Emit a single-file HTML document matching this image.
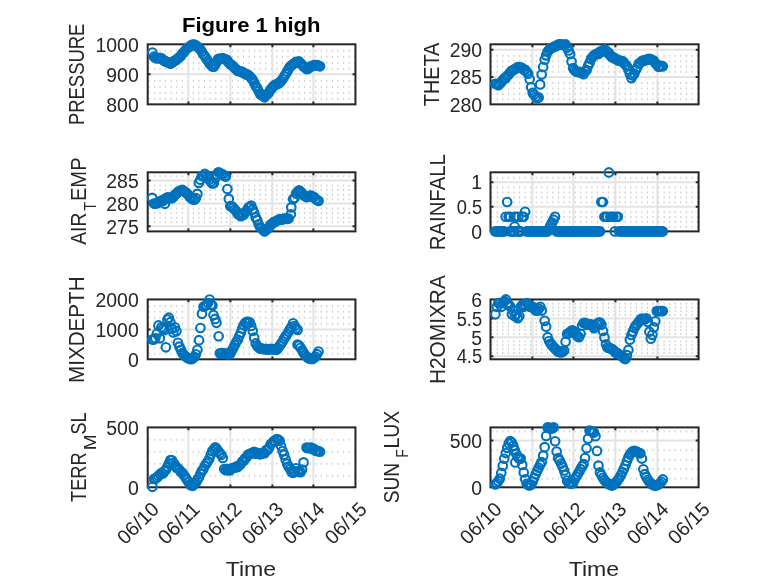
<!DOCTYPE html>
<html><head><meta charset="utf-8"><title>Figure 1 high</title>
<style>html,body{margin:0;padding:0;background:#fff;}body{width:778px;height:583px;overflow:hidden;font-family:"Liberation Sans",sans-serif;}svg{display:block;}</style></head>
<body>
<svg width="778" height="583" viewBox="0 0 778 583" font-family="'Liberation Sans', sans-serif" fill="#262626">
<rect width="778" height="583" fill="#fff"/>
<line x1="147.7" y1="98.8" x2="355.45" y2="98.8" stroke="#cccccc" stroke-width="2.0" stroke-dasharray="1.15 4.41" stroke-dashoffset="-0.7"/><line x1="147.7" y1="92.79" x2="355.45" y2="92.79" stroke="#cccccc" stroke-width="2.0" stroke-dasharray="1.15 4.41" stroke-dashoffset="-0.7"/><line x1="147.7" y1="86.78" x2="355.45" y2="86.78" stroke="#cccccc" stroke-width="2.0" stroke-dasharray="1.15 4.41" stroke-dashoffset="-0.7"/><line x1="147.7" y1="80.78" x2="355.45" y2="80.78" stroke="#cccccc" stroke-width="2.0" stroke-dasharray="1.15 4.41" stroke-dashoffset="-0.7"/><line x1="147.7" y1="68.77" x2="355.45" y2="68.77" stroke="#cccccc" stroke-width="2.0" stroke-dasharray="1.15 4.41" stroke-dashoffset="-0.7"/><line x1="147.7" y1="62.77" x2="355.45" y2="62.77" stroke="#cccccc" stroke-width="2.0" stroke-dasharray="1.15 4.41" stroke-dashoffset="-0.7"/><line x1="147.7" y1="56.76" x2="355.45" y2="56.76" stroke="#cccccc" stroke-width="2.0" stroke-dasharray="1.15 4.41" stroke-dashoffset="-0.7"/><line x1="147.7" y1="50.75" x2="355.45" y2="50.75" stroke="#cccccc" stroke-width="2.0" stroke-dasharray="1.15 4.41" stroke-dashoffset="-0.7"/><line x1="188.4" y1="44.3" x2="188.4" y2="104.35" stroke="#e3e3e3" stroke-width="2"/><line x1="230.4" y1="44.3" x2="230.4" y2="104.35" stroke="#e3e3e3" stroke-width="2"/><line x1="272.4" y1="44.3" x2="272.4" y2="104.35" stroke="#e3e3e3" stroke-width="2"/><line x1="313.4" y1="44.3" x2="313.4" y2="104.35" stroke="#e3e3e3" stroke-width="2"/><line x1="147.7" y1="74.32" x2="355.45" y2="74.32" stroke="#e3e3e3" stroke-width="2"/>
<line x1="490.5" y1="99.34" x2="698.6" y2="99.34" stroke="#cccccc" stroke-width="2.0" stroke-dasharray="1.15 4.41" stroke-dashoffset="-0.7"/><line x1="490.5" y1="93.88" x2="698.6" y2="93.88" stroke="#cccccc" stroke-width="2.0" stroke-dasharray="1.15 4.41" stroke-dashoffset="-0.7"/><line x1="490.5" y1="88.42" x2="698.6" y2="88.42" stroke="#cccccc" stroke-width="2.0" stroke-dasharray="1.15 4.41" stroke-dashoffset="-0.7"/><line x1="490.5" y1="82.96" x2="698.6" y2="82.96" stroke="#cccccc" stroke-width="2.0" stroke-dasharray="1.15 4.41" stroke-dashoffset="-0.7"/><line x1="490.5" y1="72.05" x2="698.6" y2="72.05" stroke="#cccccc" stroke-width="2.0" stroke-dasharray="1.15 4.41" stroke-dashoffset="-0.7"/><line x1="490.5" y1="66.59" x2="698.6" y2="66.59" stroke="#cccccc" stroke-width="2.0" stroke-dasharray="1.15 4.41" stroke-dashoffset="-0.7"/><line x1="490.5" y1="61.13" x2="698.6" y2="61.13" stroke="#cccccc" stroke-width="2.0" stroke-dasharray="1.15 4.41" stroke-dashoffset="-0.7"/><line x1="490.5" y1="55.67" x2="698.6" y2="55.67" stroke="#cccccc" stroke-width="2.0" stroke-dasharray="1.15 4.41" stroke-dashoffset="-0.7"/><line x1="532.4" y1="44.3" x2="532.4" y2="104.35" stroke="#e3e3e3" stroke-width="2"/><line x1="573.4" y1="44.3" x2="573.4" y2="104.35" stroke="#e3e3e3" stroke-width="2"/><line x1="615.4" y1="44.3" x2="615.4" y2="104.35" stroke="#e3e3e3" stroke-width="2"/><line x1="657.4" y1="44.3" x2="657.4" y2="104.35" stroke="#e3e3e3" stroke-width="2"/><line x1="490.5" y1="49.76" x2="698.6" y2="49.76" stroke="#e3e3e3" stroke-width="2"/><line x1="490.5" y1="77.05" x2="698.6" y2="77.05" stroke="#e3e3e3" stroke-width="2"/>
<line x1="147.7" y1="222.21" x2="355.45" y2="222.21" stroke="#cccccc" stroke-width="2.0" stroke-dasharray="1.15 4.41" stroke-dashoffset="-0.7"/><line x1="147.7" y1="217.63" x2="355.45" y2="217.63" stroke="#cccccc" stroke-width="2.0" stroke-dasharray="1.15 4.41" stroke-dashoffset="-0.7"/><line x1="147.7" y1="213.04" x2="355.45" y2="213.04" stroke="#cccccc" stroke-width="2.0" stroke-dasharray="1.15 4.41" stroke-dashoffset="-0.7"/><line x1="147.7" y1="208.45" x2="355.45" y2="208.45" stroke="#cccccc" stroke-width="2.0" stroke-dasharray="1.15 4.41" stroke-dashoffset="-0.7"/><line x1="147.7" y1="199.27" x2="355.45" y2="199.27" stroke="#cccccc" stroke-width="2.0" stroke-dasharray="1.15 4.41" stroke-dashoffset="-0.7"/><line x1="147.7" y1="194.68" x2="355.45" y2="194.68" stroke="#cccccc" stroke-width="2.0" stroke-dasharray="1.15 4.41" stroke-dashoffset="-0.7"/><line x1="147.7" y1="190.09" x2="355.45" y2="190.09" stroke="#cccccc" stroke-width="2.0" stroke-dasharray="1.15 4.41" stroke-dashoffset="-0.7"/><line x1="147.7" y1="185.51" x2="355.45" y2="185.51" stroke="#cccccc" stroke-width="2.0" stroke-dasharray="1.15 4.41" stroke-dashoffset="-0.7"/><line x1="147.7" y1="176.33" x2="355.45" y2="176.33" stroke="#cccccc" stroke-width="2.0" stroke-dasharray="1.15 4.41" stroke-dashoffset="-0.7"/><line x1="188.4" y1="172.3" x2="188.4" y2="231.4" stroke="#e3e3e3" stroke-width="2"/><line x1="230.4" y1="172.3" x2="230.4" y2="231.4" stroke="#e3e3e3" stroke-width="2"/><line x1="272.4" y1="172.3" x2="272.4" y2="231.4" stroke="#e3e3e3" stroke-width="2"/><line x1="313.4" y1="172.3" x2="313.4" y2="231.4" stroke="#e3e3e3" stroke-width="2"/><line x1="147.7" y1="180.47" x2="355.45" y2="180.47" stroke="#e3e3e3" stroke-width="2"/><line x1="147.7" y1="203.41" x2="355.45" y2="203.41" stroke="#e3e3e3" stroke-width="2"/><line x1="147.7" y1="226.35" x2="355.45" y2="226.35" stroke="#e3e3e3" stroke-width="2"/>
<line x1="490.5" y1="226.92" x2="698.6" y2="226.92" stroke="#cccccc" stroke-width="2.0" stroke-dasharray="1.15 4.41" stroke-dashoffset="-0.7"/><line x1="490.5" y1="222" x2="698.6" y2="222" stroke="#cccccc" stroke-width="2.0" stroke-dasharray="1.15 4.41" stroke-dashoffset="-0.7"/><line x1="490.5" y1="217.07" x2="698.6" y2="217.07" stroke="#cccccc" stroke-width="2.0" stroke-dasharray="1.15 4.41" stroke-dashoffset="-0.7"/><line x1="490.5" y1="212.15" x2="698.6" y2="212.15" stroke="#cccccc" stroke-width="2.0" stroke-dasharray="1.15 4.41" stroke-dashoffset="-0.7"/><line x1="490.5" y1="202.3" x2="698.6" y2="202.3" stroke="#cccccc" stroke-width="2.0" stroke-dasharray="1.15 4.41" stroke-dashoffset="-0.7"/><line x1="490.5" y1="197.38" x2="698.6" y2="197.38" stroke="#cccccc" stroke-width="2.0" stroke-dasharray="1.15 4.41" stroke-dashoffset="-0.7"/><line x1="490.5" y1="192.45" x2="698.6" y2="192.45" stroke="#cccccc" stroke-width="2.0" stroke-dasharray="1.15 4.41" stroke-dashoffset="-0.7"/><line x1="490.5" y1="187.52" x2="698.6" y2="187.52" stroke="#cccccc" stroke-width="2.0" stroke-dasharray="1.15 4.41" stroke-dashoffset="-0.7"/><line x1="490.5" y1="177.67" x2="698.6" y2="177.67" stroke="#cccccc" stroke-width="2.0" stroke-dasharray="1.15 4.41" stroke-dashoffset="-0.7"/><line x1="532.4" y1="172.3" x2="532.4" y2="231.4" stroke="#e3e3e3" stroke-width="2"/><line x1="573.4" y1="172.3" x2="573.4" y2="231.4" stroke="#e3e3e3" stroke-width="2"/><line x1="615.4" y1="172.3" x2="615.4" y2="231.4" stroke="#e3e3e3" stroke-width="2"/><line x1="657.4" y1="172.3" x2="657.4" y2="231.4" stroke="#e3e3e3" stroke-width="2"/><line x1="490.5" y1="182.15" x2="698.6" y2="182.15" stroke="#e3e3e3" stroke-width="2"/><line x1="490.5" y1="206.78" x2="698.6" y2="206.78" stroke="#e3e3e3" stroke-width="2"/>
<line x1="147.7" y1="353.76" x2="355.45" y2="353.76" stroke="#cccccc" stroke-width="2.0" stroke-dasharray="1.15 4.41" stroke-dashoffset="-0.7"/><line x1="147.7" y1="347.78" x2="355.45" y2="347.78" stroke="#cccccc" stroke-width="2.0" stroke-dasharray="1.15 4.41" stroke-dashoffset="-0.7"/><line x1="147.7" y1="341.8" x2="355.45" y2="341.8" stroke="#cccccc" stroke-width="2.0" stroke-dasharray="1.15 4.41" stroke-dashoffset="-0.7"/><line x1="147.7" y1="335.81" x2="355.45" y2="335.81" stroke="#cccccc" stroke-width="2.0" stroke-dasharray="1.15 4.41" stroke-dashoffset="-0.7"/><line x1="147.7" y1="323.84" x2="355.45" y2="323.84" stroke="#cccccc" stroke-width="2.0" stroke-dasharray="1.15 4.41" stroke-dashoffset="-0.7"/><line x1="147.7" y1="317.85" x2="355.45" y2="317.85" stroke="#cccccc" stroke-width="2.0" stroke-dasharray="1.15 4.41" stroke-dashoffset="-0.7"/><line x1="147.7" y1="311.87" x2="355.45" y2="311.87" stroke="#cccccc" stroke-width="2.0" stroke-dasharray="1.15 4.41" stroke-dashoffset="-0.7"/><line x1="147.7" y1="305.88" x2="355.45" y2="305.88" stroke="#cccccc" stroke-width="2.0" stroke-dasharray="1.15 4.41" stroke-dashoffset="-0.7"/><line x1="188.4" y1="299.45" x2="188.4" y2="359.3" stroke="#e3e3e3" stroke-width="2"/><line x1="230.4" y1="299.45" x2="230.4" y2="359.3" stroke="#e3e3e3" stroke-width="2"/><line x1="272.4" y1="299.45" x2="272.4" y2="359.3" stroke="#e3e3e3" stroke-width="2"/><line x1="313.4" y1="299.45" x2="313.4" y2="359.3" stroke="#e3e3e3" stroke-width="2"/><line x1="147.7" y1="329.38" x2="355.45" y2="329.38" stroke="#e3e3e3" stroke-width="2"/>
<line x1="490.5" y1="352.93" x2="698.6" y2="352.93" stroke="#cccccc" stroke-width="2.0" stroke-dasharray="1.15 4.41" stroke-dashoffset="-0.7"/><line x1="490.5" y1="349.14" x2="698.6" y2="349.14" stroke="#cccccc" stroke-width="2.0" stroke-dasharray="1.15 4.41" stroke-dashoffset="-0.7"/><line x1="490.5" y1="345.36" x2="698.6" y2="345.36" stroke="#cccccc" stroke-width="2.0" stroke-dasharray="1.15 4.41" stroke-dashoffset="-0.7"/><line x1="490.5" y1="341.57" x2="698.6" y2="341.57" stroke="#cccccc" stroke-width="2.0" stroke-dasharray="1.15 4.41" stroke-dashoffset="-0.7"/><line x1="490.5" y1="333.99" x2="698.6" y2="333.99" stroke="#cccccc" stroke-width="2.0" stroke-dasharray="1.15 4.41" stroke-dashoffset="-0.7"/><line x1="490.5" y1="330.2" x2="698.6" y2="330.2" stroke="#cccccc" stroke-width="2.0" stroke-dasharray="1.15 4.41" stroke-dashoffset="-0.7"/><line x1="490.5" y1="326.42" x2="698.6" y2="326.42" stroke="#cccccc" stroke-width="2.0" stroke-dasharray="1.15 4.41" stroke-dashoffset="-0.7"/><line x1="490.5" y1="322.63" x2="698.6" y2="322.63" stroke="#cccccc" stroke-width="2.0" stroke-dasharray="1.15 4.41" stroke-dashoffset="-0.7"/><line x1="490.5" y1="315.05" x2="698.6" y2="315.05" stroke="#cccccc" stroke-width="2.0" stroke-dasharray="1.15 4.41" stroke-dashoffset="-0.7"/><line x1="490.5" y1="311.26" x2="698.6" y2="311.26" stroke="#cccccc" stroke-width="2.0" stroke-dasharray="1.15 4.41" stroke-dashoffset="-0.7"/><line x1="490.5" y1="307.48" x2="698.6" y2="307.48" stroke="#cccccc" stroke-width="2.0" stroke-dasharray="1.15 4.41" stroke-dashoffset="-0.7"/><line x1="490.5" y1="303.69" x2="698.6" y2="303.69" stroke="#cccccc" stroke-width="2.0" stroke-dasharray="1.15 4.41" stroke-dashoffset="-0.7"/><line x1="532.4" y1="299.45" x2="532.4" y2="359.3" stroke="#e3e3e3" stroke-width="2"/><line x1="573.4" y1="299.45" x2="573.4" y2="359.3" stroke="#e3e3e3" stroke-width="2"/><line x1="615.4" y1="299.45" x2="615.4" y2="359.3" stroke="#e3e3e3" stroke-width="2"/><line x1="657.4" y1="299.45" x2="657.4" y2="359.3" stroke="#e3e3e3" stroke-width="2"/><line x1="490.5" y1="318.39" x2="698.6" y2="318.39" stroke="#e3e3e3" stroke-width="2"/><line x1="490.5" y1="337.33" x2="698.6" y2="337.33" stroke="#e3e3e3" stroke-width="2"/><line x1="490.5" y1="356.27" x2="698.6" y2="356.27" stroke="#e3e3e3" stroke-width="2"/>
<line x1="147.7" y1="475.77" x2="355.45" y2="475.77" stroke="#cccccc" stroke-width="2.0" stroke-dasharray="1.15 4.41" stroke-dashoffset="-0.7"/><line x1="147.7" y1="463.79" x2="355.45" y2="463.79" stroke="#cccccc" stroke-width="2.0" stroke-dasharray="1.15 4.41" stroke-dashoffset="-0.7"/><line x1="147.7" y1="451.81" x2="355.45" y2="451.81" stroke="#cccccc" stroke-width="2.0" stroke-dasharray="1.15 4.41" stroke-dashoffset="-0.7"/><line x1="147.7" y1="439.83" x2="355.45" y2="439.83" stroke="#cccccc" stroke-width="2.0" stroke-dasharray="1.15 4.41" stroke-dashoffset="-0.7"/><line x1="188.4" y1="427.4" x2="188.4" y2="487.3" stroke="#e3e3e3" stroke-width="2"/><line x1="230.4" y1="427.4" x2="230.4" y2="487.3" stroke="#e3e3e3" stroke-width="2"/><line x1="272.4" y1="427.4" x2="272.4" y2="487.3" stroke="#e3e3e3" stroke-width="2"/><line x1="313.4" y1="427.4" x2="313.4" y2="487.3" stroke="#e3e3e3" stroke-width="2"/>
<line x1="490.5" y1="478.39" x2="698.6" y2="478.39" stroke="#cccccc" stroke-width="2.0" stroke-dasharray="1.15 4.41" stroke-dashoffset="-0.7"/><line x1="490.5" y1="469.03" x2="698.6" y2="469.03" stroke="#cccccc" stroke-width="2.0" stroke-dasharray="1.15 4.41" stroke-dashoffset="-0.7"/><line x1="490.5" y1="459.67" x2="698.6" y2="459.67" stroke="#cccccc" stroke-width="2.0" stroke-dasharray="1.15 4.41" stroke-dashoffset="-0.7"/><line x1="490.5" y1="450.31" x2="698.6" y2="450.31" stroke="#cccccc" stroke-width="2.0" stroke-dasharray="1.15 4.41" stroke-dashoffset="-0.7"/><line x1="490.5" y1="431.59" x2="698.6" y2="431.59" stroke="#cccccc" stroke-width="2.0" stroke-dasharray="1.15 4.41" stroke-dashoffset="-0.7"/><line x1="532.4" y1="427.4" x2="532.4" y2="487.3" stroke="#e3e3e3" stroke-width="2"/><line x1="573.4" y1="427.4" x2="573.4" y2="487.3" stroke="#e3e3e3" stroke-width="2"/><line x1="615.4" y1="427.4" x2="615.4" y2="487.3" stroke="#e3e3e3" stroke-width="2"/><line x1="657.4" y1="427.4" x2="657.4" y2="487.3" stroke="#e3e3e3" stroke-width="2"/><line x1="490.5" y1="440.5" x2="698.6" y2="440.5" stroke="#e3e3e3" stroke-width="2"/>
<rect x="147.7" y="44.3" width="207.75" height="60.05" fill="none" stroke="#262626" stroke-width="2.0"/><path d="M188.4 104.35v-2.9M188.4 44.3v2.9M230.4 104.35v-2.9M230.4 44.3v2.9M272.4 104.35v-2.9M272.4 44.3v2.9M313.4 104.35v-2.9M313.4 44.3v2.9M147.7 74.32h2.9M355.45 74.32h-2.9" stroke="#262626" stroke-width="2.0" fill="none"/>
<rect x="490.5" y="44.3" width="208.1" height="60.05" fill="none" stroke="#262626" stroke-width="2.0"/><path d="M532.4 104.35v-2.9M532.4 44.3v2.9M573.4 104.35v-2.9M573.4 44.3v2.9M615.4 104.35v-2.9M615.4 44.3v2.9M657.4 104.35v-2.9M657.4 44.3v2.9M490.5 49.76h2.9M698.6 49.76h-2.9M490.5 77.05h2.9M698.6 77.05h-2.9" stroke="#262626" stroke-width="2.0" fill="none"/>
<rect x="147.7" y="172.3" width="207.75" height="59.1" fill="none" stroke="#262626" stroke-width="2.0"/><path d="M188.4 231.4v-2.9M188.4 172.3v2.9M230.4 231.4v-2.9M230.4 172.3v2.9M272.4 231.4v-2.9M272.4 172.3v2.9M313.4 231.4v-2.9M313.4 172.3v2.9M147.7 180.47h2.9M355.45 180.47h-2.9M147.7 203.41h2.9M355.45 203.41h-2.9M147.7 226.35h2.9M355.45 226.35h-2.9" stroke="#262626" stroke-width="2.0" fill="none"/>
<rect x="490.5" y="172.3" width="208.1" height="59.1" fill="none" stroke="#262626" stroke-width="2.0"/><path d="M532.4 231.4v-2.9M532.4 172.3v2.9M573.4 231.4v-2.9M573.4 172.3v2.9M615.4 231.4v-2.9M615.4 172.3v2.9M657.4 231.4v-2.9M657.4 172.3v2.9M490.5 182.15h2.9M698.6 182.15h-2.9M490.5 206.78h2.9M698.6 206.78h-2.9" stroke="#262626" stroke-width="2.0" fill="none"/>
<rect x="147.7" y="299.45" width="207.75" height="59.85" fill="none" stroke="#262626" stroke-width="2.0"/><path d="M188.4 359.3v-2.9M188.4 299.45v2.9M230.4 359.3v-2.9M230.4 299.45v2.9M272.4 359.3v-2.9M272.4 299.45v2.9M313.4 359.3v-2.9M313.4 299.45v2.9M147.7 329.38h2.9M355.45 329.38h-2.9" stroke="#262626" stroke-width="2.0" fill="none"/>
<rect x="490.5" y="299.45" width="208.1" height="59.85" fill="none" stroke="#262626" stroke-width="2.0"/><path d="M532.4 359.3v-2.9M532.4 299.45v2.9M573.4 359.3v-2.9M573.4 299.45v2.9M615.4 359.3v-2.9M615.4 299.45v2.9M657.4 359.3v-2.9M657.4 299.45v2.9M490.5 318.39h2.9M698.6 318.39h-2.9M490.5 337.33h2.9M698.6 337.33h-2.9M490.5 356.27h2.9M698.6 356.27h-2.9" stroke="#262626" stroke-width="2.0" fill="none"/>
<rect x="147.7" y="427.4" width="207.75" height="59.9" fill="none" stroke="#262626" stroke-width="2.0"/><path d="M188.4 487.3v-2.9M188.4 427.4v2.9M230.4 487.3v-2.9M230.4 427.4v2.9M272.4 487.3v-2.9M272.4 427.4v2.9M313.4 487.3v-2.9M313.4 427.4v2.9" stroke="#262626" stroke-width="2.0" fill="none"/>
<rect x="490.5" y="427.4" width="208.1" height="59.9" fill="none" stroke="#262626" stroke-width="2.0"/><path d="M532.4 487.3v-2.9M532.4 427.4v2.9M573.4 487.3v-2.9M573.4 427.4v2.9M615.4 487.3v-2.9M615.4 427.4v2.9M657.4 487.3v-2.9M657.4 427.4v2.9M490.5 440.5h2.9M698.6 440.5h-2.9" stroke="#262626" stroke-width="2.0" fill="none"/>
<g fill="none" stroke="#0072BD" stroke-width="2.1"><circle cx="152.4" cy="52.6" r="4.3"/><circle cx="154" cy="56.67" r="4.3"/><circle cx="155.49" cy="57.86" r="4.3"/><circle cx="156.99" cy="58.29" r="4.3"/><circle cx="158.48" cy="58.14" r="4.3"/><circle cx="159.98" cy="57.85" r="4.3"/><circle cx="161.47" cy="58.36" r="4.3"/><circle cx="162.97" cy="60.05" r="4.3"/><circle cx="164.46" cy="60.61" r="4.3"/><circle cx="165.96" cy="61.64" r="4.3"/><circle cx="167.46" cy="62.11" r="4.3"/><circle cx="168.95" cy="62.78" r="4.3"/><circle cx="170.45" cy="63.67" r="4.3"/><circle cx="171.94" cy="62.6" r="4.3"/><circle cx="173.44" cy="61.68" r="4.3"/><circle cx="174.93" cy="60.5" r="4.3"/><circle cx="176.43" cy="59.98" r="4.3"/><circle cx="177.92" cy="58.28" r="4.3"/><circle cx="179.42" cy="57.18" r="4.3"/><circle cx="180.91" cy="55.88" r="4.3"/><circle cx="182.41" cy="53.58" r="4.3"/><circle cx="183.91" cy="52.15" r="4.3"/><circle cx="185.4" cy="50.31" r="4.3"/><circle cx="186.9" cy="48.5" r="4.3"/><circle cx="188.39" cy="47.28" r="4.3"/><circle cx="189.89" cy="46.51" r="4.3"/><circle cx="191.38" cy="45.01" r="4.3"/><circle cx="192.88" cy="44.62" r="4.3"/><circle cx="194.37" cy="44.69" r="4.3"/><circle cx="195.87" cy="45.46" r="4.3"/><circle cx="197.37" cy="46.62" r="4.3"/><circle cx="198.86" cy="48.06" r="4.3"/><circle cx="200.36" cy="49.48" r="4.3"/><circle cx="201.85" cy="51.61" r="4.3"/><circle cx="203.35" cy="54.53" r="4.3"/><circle cx="204.84" cy="56.19" r="4.3"/><circle cx="206.34" cy="58.6" r="4.3"/><circle cx="207.83" cy="60.8" r="4.3"/><circle cx="209.33" cy="63.16" r="4.3"/><circle cx="210.82" cy="64.99" r="4.3"/><circle cx="212.32" cy="66.36" r="4.3"/><circle cx="213.82" cy="66.63" r="4.3"/><circle cx="215.31" cy="64.49" r="4.3"/><circle cx="216.81" cy="61.43" r="4.3"/><circle cx="218.3" cy="58.84" r="4.3"/><circle cx="219.8" cy="58.96" r="4.3"/><circle cx="221.29" cy="58.86" r="4.3"/><circle cx="222.79" cy="58.19" r="4.3"/><circle cx="224.28" cy="59.07" r="4.3"/><circle cx="225.78" cy="59.32" r="4.3"/><circle cx="227.28" cy="60.4" r="4.3"/><circle cx="228.77" cy="62.67" r="4.3"/><circle cx="230.27" cy="64.27" r="4.3"/><circle cx="231.76" cy="64.95" r="4.3"/><circle cx="233.26" cy="66.5" r="4.3"/><circle cx="234.75" cy="68.06" r="4.3"/><circle cx="236.25" cy="69.48" r="4.3"/><circle cx="237.74" cy="70.99" r="4.3"/><circle cx="239.24" cy="71.03" r="4.3"/><circle cx="240.73" cy="71.72" r="4.3"/><circle cx="242.23" cy="71.79" r="4.3"/><circle cx="243.73" cy="73.25" r="4.3"/><circle cx="245.22" cy="73.53" r="4.3"/><circle cx="246.72" cy="74.74" r="4.3"/><circle cx="248.21" cy="74.94" r="4.3"/><circle cx="249.71" cy="76.28" r="4.3"/><circle cx="251.2" cy="78.1" r="4.3"/><circle cx="252.7" cy="79.82" r="4.3"/><circle cx="254.19" cy="82.55" r="4.3"/><circle cx="255.69" cy="86.02" r="4.3"/><circle cx="257.19" cy="88.01" r="4.3"/><circle cx="258.68" cy="91.26" r="4.3"/><circle cx="260.18" cy="94.21" r="4.3"/><circle cx="261.67" cy="94.9" r="4.3"/><circle cx="263.17" cy="96.05" r="4.3"/><circle cx="264.66" cy="97.3" r="4.3"/><circle cx="266.16" cy="94.86" r="4.3"/><circle cx="267.65" cy="93.98" r="4.3"/><circle cx="269.15" cy="92.12" r="4.3"/><circle cx="270.64" cy="89.44" r="4.3"/><circle cx="272.14" cy="87.9" r="4.3"/><circle cx="273.64" cy="85.78" r="4.3"/><circle cx="275.13" cy="85.04" r="4.3"/><circle cx="276.63" cy="84.13" r="4.3"/><circle cx="278.12" cy="83.62" r="4.3"/><circle cx="279.62" cy="82.49" r="4.3"/><circle cx="281.11" cy="81.1" r="4.3"/><circle cx="282.61" cy="79.07" r="4.3"/><circle cx="284.1" cy="76.59" r="4.3"/><circle cx="285.6" cy="74.21" r="4.3"/><circle cx="287.1" cy="71.81" r="4.3"/><circle cx="288.59" cy="68.98" r="4.3"/><circle cx="290.09" cy="66.46" r="4.3"/><circle cx="291.58" cy="65.59" r="4.3"/><circle cx="293.08" cy="64.02" r="4.3"/><circle cx="294.57" cy="63.23" r="4.3"/><circle cx="296.07" cy="61.84" r="4.3"/><circle cx="297.56" cy="62.07" r="4.3"/><circle cx="299.06" cy="61.42" r="4.3"/><circle cx="300.55" cy="63.3" r="4.3"/><circle cx="302.05" cy="64.71" r="4.3"/><circle cx="303.55" cy="66.36" r="4.3"/><circle cx="305.04" cy="67.49" r="4.3"/><circle cx="306.54" cy="69.04" r="4.3"/><circle cx="308.03" cy="68.81" r="4.3"/><circle cx="309.53" cy="67.35" r="4.3"/><circle cx="311.02" cy="66.04" r="4.3"/><circle cx="312.52" cy="66.05" r="4.3"/><circle cx="314.01" cy="65.15" r="4.3"/><circle cx="315.51" cy="65.11" r="4.3"/><circle cx="317" cy="65.15" r="4.3"/><circle cx="318.5" cy="65.6" r="4.3"/><circle cx="320" cy="66.33" r="4.3"/></g>
<g fill="none" stroke="#0072BD" stroke-width="2.1"><circle cx="495.3" cy="83.76" r="4.3"/><circle cx="496.8" cy="84.04" r="4.3"/><circle cx="498.29" cy="85.1" r="4.3"/><circle cx="499.79" cy="83.78" r="4.3"/><circle cx="501.28" cy="82.13" r="4.3"/><circle cx="502.78" cy="80.22" r="4.3"/><circle cx="504.27" cy="78.33" r="4.3"/><circle cx="505.77" cy="78.25" r="4.3"/><circle cx="507.26" cy="76.02" r="4.3"/><circle cx="508.76" cy="74.4" r="4.3"/><circle cx="510.25" cy="72.17" r="4.3"/><circle cx="511.75" cy="70.94" r="4.3"/><circle cx="513.25" cy="70.11" r="4.3"/><circle cx="514.74" cy="69.07" r="4.3"/><circle cx="516.24" cy="68.41" r="4.3"/><circle cx="517.73" cy="67.04" r="4.3"/><circle cx="519.23" cy="67.44" r="4.3"/><circle cx="520.72" cy="67.3" r="4.3"/><circle cx="522.22" cy="68.17" r="4.3"/><circle cx="523.71" cy="69.63" r="4.3"/><circle cx="525.21" cy="69.74" r="4.3"/><circle cx="526.71" cy="71.95" r="4.3"/><circle cx="528.2" cy="73.69" r="4.3"/><circle cx="529.7" cy="79.2" r="4.3"/><circle cx="531.19" cy="87.26" r="4.3"/><circle cx="532.69" cy="92.86" r="4.3"/><circle cx="534.18" cy="94.46" r="4.3"/><circle cx="535.68" cy="96.75" r="4.3"/><circle cx="537.17" cy="98.25" r="4.3"/><circle cx="538.67" cy="97.43" r="4.3"/><circle cx="540.16" cy="84.43" r="4.3"/><circle cx="541.66" cy="74.53" r="4.3"/><circle cx="543.16" cy="67.02" r="4.3"/><circle cx="544.65" cy="59.66" r="4.3"/><circle cx="546.15" cy="55.35" r="4.3"/><circle cx="547.64" cy="51.47" r="4.3"/><circle cx="549.14" cy="49.94" r="4.3"/><circle cx="550.63" cy="48.4" r="4.3"/><circle cx="552.13" cy="47.75" r="4.3"/><circle cx="553.62" cy="46.92" r="4.3"/><circle cx="555.12" cy="46.23" r="4.3"/><circle cx="556.62" cy="46.09" r="4.3"/><circle cx="558.11" cy="44.49" r="4.3"/><circle cx="559.61" cy="44.3" r="4.3"/><circle cx="561.1" cy="44.3" r="4.3"/><circle cx="562.6" cy="44.73" r="4.3"/><circle cx="564.09" cy="45.07" r="4.3"/><circle cx="565.59" cy="44.41" r="4.3"/><circle cx="567.08" cy="47.61" r="4.3"/><circle cx="568.58" cy="50.5" r="4.3"/><circle cx="570.08" cy="54.04" r="4.3"/><circle cx="571.57" cy="61.49" r="4.3"/><circle cx="573.07" cy="68.03" r="4.3"/><circle cx="574.56" cy="70.18" r="4.3"/><circle cx="576.06" cy="71.59" r="4.3"/><circle cx="577.55" cy="71.99" r="4.3"/><circle cx="579.05" cy="71.86" r="4.3"/><circle cx="580.54" cy="72.52" r="4.3"/><circle cx="582.04" cy="72.73" r="4.3"/><circle cx="583.53" cy="74.18" r="4.3"/><circle cx="585.03" cy="71.21" r="4.3"/><circle cx="586.53" cy="70.2" r="4.3"/><circle cx="588.02" cy="66.14" r="4.3"/><circle cx="589.52" cy="62.9" r="4.3"/><circle cx="591.01" cy="59.14" r="4.3"/><circle cx="592.51" cy="57.07" r="4.3"/><circle cx="594" cy="55.24" r="4.3"/><circle cx="595.5" cy="54.48" r="4.3"/><circle cx="596.99" cy="53.59" r="4.3"/><circle cx="598.49" cy="53.86" r="4.3"/><circle cx="599.99" cy="51.68" r="4.3"/><circle cx="601.48" cy="51.53" r="4.3"/><circle cx="602.98" cy="50.9" r="4.3"/><circle cx="604.47" cy="49.38" r="4.3"/><circle cx="605.97" cy="50.57" r="4.3"/><circle cx="607.46" cy="52.73" r="4.3"/><circle cx="608.96" cy="52.91" r="4.3"/><circle cx="610.45" cy="55.79" r="4.3"/><circle cx="611.95" cy="57.11" r="4.3"/><circle cx="613.44" cy="57.28" r="4.3"/><circle cx="614.94" cy="58.6" r="4.3"/><circle cx="616.44" cy="58.99" r="4.3"/><circle cx="617.93" cy="60.48" r="4.3"/><circle cx="619.43" cy="60.44" r="4.3"/><circle cx="620.92" cy="61.08" r="4.3"/><circle cx="622.42" cy="60.99" r="4.3"/><circle cx="623.91" cy="62.61" r="4.3"/><circle cx="625.41" cy="64.71" r="4.3"/><circle cx="626.9" cy="66.18" r="4.3"/><circle cx="628.4" cy="69.67" r="4.3"/><circle cx="629.89" cy="74.2" r="4.3"/><circle cx="631.39" cy="78.1" r="4.3"/><circle cx="632.89" cy="75.57" r="4.3"/><circle cx="634.38" cy="73.57" r="4.3"/><circle cx="635.88" cy="69.96" r="4.3"/><circle cx="637.37" cy="67.28" r="4.3"/><circle cx="638.87" cy="63.6" r="4.3"/><circle cx="640.36" cy="62.72" r="4.3"/><circle cx="641.86" cy="60.96" r="4.3"/><circle cx="643.35" cy="60.94" r="4.3"/><circle cx="644.85" cy="60.15" r="4.3"/><circle cx="646.35" cy="59.94" r="4.3"/><circle cx="647.84" cy="59.05" r="4.3"/><circle cx="649.34" cy="58.86" r="4.3"/><circle cx="650.83" cy="59.36" r="4.3"/><circle cx="652.33" cy="60" r="4.3"/><circle cx="653.82" cy="60.88" r="4.3"/><circle cx="655.32" cy="63.32" r="4.3"/><circle cx="656.81" cy="64.33" r="4.3"/><circle cx="658.31" cy="66.61" r="4.3"/><circle cx="659.81" cy="66.51" r="4.3"/><circle cx="661.3" cy="65.97" r="4.3"/><circle cx="662.8" cy="66.31" r="4.3"/></g>
<g fill="none" stroke="#0072BD" stroke-width="2.1"><circle cx="152.2" cy="197.9" r="4.3"/><circle cx="154" cy="203.58" r="4.3"/><circle cx="155.49" cy="203.7" r="4.3"/><circle cx="156.99" cy="203.22" r="4.3"/><circle cx="158.48" cy="202.48" r="4.3"/><circle cx="159.98" cy="201.48" r="4.3"/><circle cx="161.47" cy="200.53" r="4.3"/><circle cx="162.97" cy="200.96" r="4.3"/><circle cx="164.46" cy="199.39" r="4.3"/><circle cx="164.9" cy="203.8" r="4.3"/><circle cx="165.96" cy="198.35" r="4.3"/><circle cx="167.46" cy="197.33" r="4.3"/><circle cx="168.95" cy="197.6" r="4.3"/><circle cx="170.45" cy="198.2" r="4.3"/><circle cx="171.94" cy="198.2" r="4.3"/><circle cx="173.44" cy="196.91" r="4.3"/><circle cx="174.93" cy="194.8" r="4.3"/><circle cx="176.43" cy="193.81" r="4.3"/><circle cx="177.92" cy="191.97" r="4.3"/><circle cx="179.42" cy="191.01" r="4.3"/><circle cx="180.91" cy="190.44" r="4.3"/><circle cx="182.41" cy="189.92" r="4.3"/><circle cx="183.91" cy="191.33" r="4.3"/><circle cx="185.4" cy="192.19" r="4.3"/><circle cx="186.9" cy="193.25" r="4.3"/><circle cx="188.39" cy="195.02" r="4.3"/><circle cx="189.89" cy="197.33" r="4.3"/><circle cx="191.38" cy="198.12" r="4.3"/><circle cx="192.88" cy="199.46" r="4.3"/><circle cx="194.37" cy="199.72" r="4.3"/><circle cx="195.87" cy="198.22" r="4.3"/><circle cx="197.37" cy="193.89" r="4.3"/><circle cx="198.86" cy="182.86" r="4.3"/><circle cx="200.36" cy="179.67" r="4.3"/><circle cx="201.85" cy="176.02" r="4.3"/><circle cx="203.35" cy="175.67" r="4.3"/><circle cx="204.84" cy="173.8" r="4.3"/><circle cx="206.34" cy="175.54" r="4.3"/><circle cx="207.83" cy="177.18" r="4.3"/><circle cx="209.33" cy="179.69" r="4.3"/><circle cx="210.82" cy="181.81" r="4.3"/><circle cx="212.32" cy="183.4" r="4.3"/><circle cx="213.82" cy="183.2" r="4.3"/><circle cx="215.31" cy="178.21" r="4.3"/><circle cx="216.81" cy="174.41" r="4.3"/><circle cx="218.3" cy="172.3" r="4.3"/><circle cx="219.8" cy="172.95" r="4.3"/><circle cx="221.29" cy="174.35" r="4.3"/><circle cx="222.79" cy="174.28" r="4.3"/><circle cx="224.28" cy="176.05" r="4.3"/><circle cx="225.78" cy="176.56" r="4.3"/><circle cx="227.4" cy="189" r="4.3"/><circle cx="228.8" cy="198.9" r="4.3"/><circle cx="230.27" cy="206.18" r="4.3"/><circle cx="231.76" cy="206.27" r="4.3"/><circle cx="233.26" cy="207.85" r="4.3"/><circle cx="234.75" cy="209.48" r="4.3"/><circle cx="236.25" cy="211.12" r="4.3"/><circle cx="237.74" cy="213.96" r="4.3"/><circle cx="239.24" cy="214.82" r="4.3"/><circle cx="240.73" cy="216.16" r="4.3"/><circle cx="242.23" cy="215.32" r="4.3"/><circle cx="243.73" cy="214.61" r="4.3"/><circle cx="245.22" cy="212.14" r="4.3"/><circle cx="246.72" cy="210.7" r="4.3"/><circle cx="248.21" cy="207.83" r="4.3"/><circle cx="249.71" cy="206.81" r="4.3"/><circle cx="251.2" cy="205.49" r="4.3"/><circle cx="252.7" cy="209.16" r="4.3"/><circle cx="254.19" cy="212.72" r="4.3"/><circle cx="255.69" cy="217.38" r="4.3"/><circle cx="257.19" cy="220.09" r="4.3"/><circle cx="258.68" cy="224.36" r="4.3"/><circle cx="260.18" cy="227.26" r="4.3"/><circle cx="261.67" cy="228.33" r="4.3"/><circle cx="263.17" cy="229.93" r="4.3"/><circle cx="264.66" cy="231.4" r="4.3"/><circle cx="266.16" cy="229.52" r="4.3"/><circle cx="267.65" cy="229.06" r="4.3"/><circle cx="269.15" cy="227.22" r="4.3"/><circle cx="270.64" cy="224.55" r="4.3"/><circle cx="272.14" cy="223.69" r="4.3"/><circle cx="273.64" cy="222.02" r="4.3"/><circle cx="275.13" cy="221.91" r="4.3"/><circle cx="276.63" cy="220.77" r="4.3"/><circle cx="278.12" cy="220.2" r="4.3"/><circle cx="279.62" cy="219.08" r="4.3"/><circle cx="281.11" cy="219.74" r="4.3"/><circle cx="282.61" cy="219.49" r="4.3"/><circle cx="284.1" cy="218.63" r="4.3"/><circle cx="285.6" cy="218.66" r="4.3"/><circle cx="287.1" cy="218.91" r="4.3"/><circle cx="288.59" cy="218.56" r="4.3"/><circle cx="290.9" cy="214.3" r="4.3"/><circle cx="291.3" cy="207.4" r="4.3"/><circle cx="293.08" cy="199.18" r="4.3"/><circle cx="294.57" cy="197.97" r="4.3"/><circle cx="296.07" cy="193.56" r="4.3"/><circle cx="297.56" cy="191.75" r="4.3"/><circle cx="299.06" cy="190.4" r="4.3"/><circle cx="300.55" cy="191.56" r="4.3"/><circle cx="302.05" cy="193.23" r="4.3"/><circle cx="303.55" cy="195.15" r="4.3"/><circle cx="305.04" cy="195.99" r="4.3"/><circle cx="306.54" cy="197.17" r="4.3"/><circle cx="308.03" cy="196.76" r="4.3"/><circle cx="309.53" cy="195.73" r="4.3"/><circle cx="311.02" cy="195.48" r="4.3"/><circle cx="312.52" cy="196.91" r="4.3"/><circle cx="314.01" cy="196.98" r="4.3"/><circle cx="315.51" cy="199.01" r="4.3"/><circle cx="317" cy="200.02" r="4.3"/><circle cx="318.5" cy="200.9" r="4.3"/></g>
<g fill="none" stroke="#0072BD" stroke-width="2.1"><circle cx="495.2" cy="231.4" r="4.3"/><circle cx="496.7" cy="231.4" r="4.3"/><circle cx="498.19" cy="231.4" r="4.3"/><circle cx="499.69" cy="231.4" r="4.3"/><circle cx="501.18" cy="231.4" r="4.3"/><circle cx="502.68" cy="231.4" r="4.3"/><circle cx="504.17" cy="231.4" r="4.3"/><circle cx="505.67" cy="216.74" r="4.3"/><circle cx="507.16" cy="201.98" r="4.3"/><circle cx="508.66" cy="216.74" r="4.3"/><circle cx="510.15" cy="216.74" r="4.3"/><circle cx="510.15" cy="231.4" r="4.3"/><circle cx="511.65" cy="231.4" r="4.3"/><circle cx="513.15" cy="231.4" r="4.3"/><circle cx="514.64" cy="216.74" r="4.3"/><circle cx="514.64" cy="226.58" r="4.3"/><circle cx="514.64" cy="231.4" r="4.3"/><circle cx="516.14" cy="216.74" r="4.3"/><circle cx="517.63" cy="231.4" r="4.3"/><circle cx="518.38" cy="216.74" r="4.3"/><circle cx="519.13" cy="231.4" r="4.3"/><circle cx="520.62" cy="231.4" r="4.3"/><circle cx="522.12" cy="216.74" r="4.3"/><circle cx="523.61" cy="216.74" r="4.3"/><circle cx="525.11" cy="211.82" r="4.3"/><circle cx="526.61" cy="231.4" r="4.3"/><circle cx="528.1" cy="231.4" r="4.3"/><circle cx="529.6" cy="231.4" r="4.3"/><circle cx="531.09" cy="231.4" r="4.3"/><circle cx="532.59" cy="231.4" r="4.3"/><circle cx="534.08" cy="231.4" r="4.3"/><circle cx="535.58" cy="231.4" r="4.3"/><circle cx="537.07" cy="231.4" r="4.3"/><circle cx="538.57" cy="231.4" r="4.3"/><circle cx="540.06" cy="231.4" r="4.3"/><circle cx="541.56" cy="231.4" r="4.3"/><circle cx="543.06" cy="231.4" r="4.3"/><circle cx="544.55" cy="231.4" r="4.3"/><circle cx="546.05" cy="231.4" r="4.3"/><circle cx="547.54" cy="231.4" r="4.3"/><circle cx="549.04" cy="228.55" r="4.3"/><circle cx="550.53" cy="225.6" r="4.3"/><circle cx="552.03" cy="222.64" r="4.3"/><circle cx="553.52" cy="219.69" r="4.3"/><circle cx="555.02" cy="216.74" r="4.3"/><circle cx="556.52" cy="231.4" r="4.3"/><circle cx="558.01" cy="231.4" r="4.3"/><circle cx="559.51" cy="231.4" r="4.3"/><circle cx="561" cy="231.4" r="4.3"/><circle cx="562.5" cy="231.4" r="4.3"/><circle cx="563.99" cy="231.4" r="4.3"/><circle cx="565.49" cy="231.4" r="4.3"/><circle cx="566.98" cy="231.4" r="4.3"/><circle cx="568.48" cy="231.4" r="4.3"/><circle cx="569.98" cy="231.4" r="4.3"/><circle cx="571.47" cy="231.4" r="4.3"/><circle cx="572.97" cy="231.4" r="4.3"/><circle cx="574.46" cy="231.4" r="4.3"/><circle cx="575.96" cy="231.4" r="4.3"/><circle cx="577.45" cy="231.4" r="4.3"/><circle cx="578.95" cy="231.4" r="4.3"/><circle cx="580.44" cy="231.4" r="4.3"/><circle cx="581.94" cy="231.4" r="4.3"/><circle cx="583.43" cy="231.4" r="4.3"/><circle cx="584.93" cy="231.4" r="4.3"/><circle cx="586.43" cy="231.4" r="4.3"/><circle cx="587.92" cy="231.4" r="4.3"/><circle cx="589.42" cy="231.4" r="4.3"/><circle cx="590.91" cy="231.4" r="4.3"/><circle cx="592.41" cy="231.4" r="4.3"/><circle cx="593.9" cy="231.4" r="4.3"/><circle cx="595.4" cy="231.4" r="4.3"/><circle cx="596.89" cy="231.4" r="4.3"/><circle cx="598.39" cy="231.4" r="4.3"/><circle cx="599.88" cy="231.4" r="4.3"/><circle cx="601.38" cy="201.98" r="4.3"/><circle cx="602.88" cy="201.98" r="4.3"/><circle cx="604.37" cy="216.74" r="4.3"/><circle cx="605.87" cy="216.74" r="4.3"/><circle cx="607.36" cy="216.74" r="4.3"/><circle cx="608.86" cy="172.46" r="4.3"/><circle cx="610.35" cy="216.74" r="4.3"/><circle cx="611.85" cy="216.74" r="4.3"/><circle cx="613.34" cy="216.74" r="4.3"/><circle cx="614.84" cy="231.4" r="4.3"/><circle cx="616.34" cy="216.74" r="4.3"/><circle cx="617.83" cy="216.74" r="4.3"/><circle cx="619.33" cy="231.4" r="4.3"/><circle cx="620.82" cy="231.4" r="4.3"/><circle cx="622.32" cy="231.4" r="4.3"/><circle cx="623.81" cy="231.4" r="4.3"/><circle cx="625.31" cy="231.4" r="4.3"/><circle cx="626.8" cy="231.4" r="4.3"/><circle cx="628.3" cy="231.4" r="4.3"/><circle cx="629.79" cy="231.4" r="4.3"/><circle cx="631.29" cy="231.4" r="4.3"/><circle cx="632.79" cy="231.4" r="4.3"/><circle cx="634.28" cy="231.4" r="4.3"/><circle cx="635.78" cy="231.4" r="4.3"/><circle cx="637.27" cy="231.4" r="4.3"/><circle cx="638.77" cy="231.4" r="4.3"/><circle cx="640.26" cy="231.4" r="4.3"/><circle cx="641.76" cy="231.4" r="4.3"/><circle cx="643.25" cy="231.4" r="4.3"/><circle cx="644.75" cy="231.4" r="4.3"/><circle cx="646.25" cy="231.4" r="4.3"/><circle cx="647.74" cy="231.4" r="4.3"/><circle cx="649.24" cy="231.4" r="4.3"/><circle cx="650.73" cy="231.4" r="4.3"/><circle cx="652.23" cy="231.4" r="4.3"/><circle cx="653.72" cy="231.4" r="4.3"/><circle cx="655.22" cy="231.4" r="4.3"/><circle cx="656.71" cy="231.4" r="4.3"/><circle cx="658.21" cy="231.4" r="4.3"/><circle cx="659.7" cy="231.4" r="4.3"/><circle cx="661.2" cy="231.4" r="4.3"/><circle cx="662.7" cy="231.4" r="4.3"/></g>
<g fill="none" stroke="#0072BD" stroke-width="2.1"><circle cx="152.37" cy="339.57" r="4.3"/><circle cx="153.91" cy="339.57" r="4.3"/><circle cx="155.33" cy="338.28" r="4.3"/><circle cx="156.87" cy="333.77" r="4.3"/><circle cx="158.42" cy="325.41" r="4.3"/><circle cx="159.84" cy="338.28" r="4.3"/><circle cx="161.38" cy="327.34" r="4.3"/><circle cx="162.93" cy="328.62" r="4.3"/><circle cx="164.34" cy="329.91" r="4.3"/><circle cx="165.89" cy="347.29" r="4.3"/><circle cx="167.43" cy="319.61" r="4.3"/><circle cx="168.85" cy="317.68" r="4.3"/><circle cx="170.39" cy="322.19" r="4.3"/><circle cx="171.94" cy="328.62" r="4.3"/><circle cx="173.35" cy="332.49" r="4.3"/><circle cx="174.9" cy="327.34" r="4.3"/><circle cx="176.44" cy="331.2" r="4.3"/><circle cx="177.86" cy="342.79" r="4.3"/><circle cx="179.41" cy="346.65" r="4.3"/><circle cx="180.95" cy="349.87" r="4.3"/><circle cx="182.37" cy="353.09" r="4.3"/><circle cx="183.91" cy="355.02" r="4.3"/><circle cx="185.46" cy="356.31" r="4.3"/><circle cx="186.87" cy="357.59" r="4.3"/><circle cx="188.42" cy="358.24" r="4.3"/><circle cx="189.96" cy="358.88" r="4.3"/><circle cx="191.38" cy="359.14" r="4.3"/><circle cx="192.92" cy="358.24" r="4.3"/><circle cx="194.47" cy="356.95" r="4.3"/><circle cx="195.89" cy="354.37" r="4.3"/><circle cx="197.43" cy="349.87" r="4.3"/><circle cx="198.98" cy="340.21" r="4.3"/><circle cx="200.39" cy="327.98" r="4.3"/><circle cx="201.94" cy="313.82" r="4.3"/><circle cx="203.48" cy="306.74" r="4.3"/><circle cx="205" cy="306" r="4.3"/><circle cx="206.5" cy="305" r="4.3"/><circle cx="208" cy="303" r="4.3"/><circle cx="209.6" cy="299.5" r="4.3"/><circle cx="211" cy="304.8" r="4.3"/><circle cx="212.4" cy="305.5" r="4.3"/><circle cx="213.5" cy="315.08" r="4.3"/><circle cx="215.18" cy="318.94" r="4.3"/><circle cx="216.46" cy="322.8" r="4.3"/><circle cx="218.65" cy="336.3" r="4.3"/><circle cx="219.8" cy="353.24" r="4.3"/><circle cx="221.29" cy="353.54" r="4.3"/><circle cx="222.79" cy="353.13" r="4.3"/><circle cx="224.28" cy="353.83" r="4.3"/><circle cx="225.78" cy="353.8" r="4.3"/><circle cx="227.28" cy="353.67" r="4.3"/><circle cx="228.77" cy="354.49" r="4.3"/><circle cx="230.27" cy="353.65" r="4.3"/><circle cx="231.76" cy="350.76" r="4.3"/><circle cx="233.26" cy="348.01" r="4.3"/><circle cx="234.75" cy="345.07" r="4.3"/><circle cx="236.25" cy="342.02" r="4.3"/><circle cx="237.74" cy="339.66" r="4.3"/><circle cx="239.24" cy="336.28" r="4.3"/><circle cx="240.73" cy="332.84" r="4.3"/><circle cx="242.23" cy="328.49" r="4.3"/><circle cx="243.73" cy="325.12" r="4.3"/><circle cx="245.22" cy="322.87" r="4.3"/><circle cx="246.72" cy="321.96" r="4.3"/><circle cx="248.21" cy="321.77" r="4.3"/><circle cx="249.71" cy="322.29" r="4.3"/><circle cx="251.2" cy="325.88" r="4.3"/><circle cx="252.7" cy="330.85" r="4.3"/><circle cx="254.19" cy="337.67" r="4.3"/><circle cx="255.69" cy="343.47" r="4.3"/><circle cx="257.19" cy="345.96" r="4.3"/><circle cx="258.68" cy="347.4" r="4.3"/><circle cx="260.18" cy="348.61" r="4.3"/><circle cx="261.67" cy="348.54" r="4.3"/><circle cx="263.17" cy="348.76" r="4.3"/><circle cx="264.66" cy="349.39" r="4.3"/><circle cx="266.16" cy="348.83" r="4.3"/><circle cx="267.65" cy="349.53" r="4.3"/><circle cx="269.15" cy="349.44" r="4.3"/><circle cx="270.64" cy="348.85" r="4.3"/><circle cx="272.14" cy="349.22" r="4.3"/><circle cx="273.64" cy="349.11" r="4.3"/><circle cx="275.13" cy="349.72" r="4.3"/><circle cx="276.63" cy="349.84" r="4.3"/><circle cx="278.12" cy="348.11" r="4.3"/><circle cx="279.62" cy="345.76" r="4.3"/><circle cx="281.11" cy="343.85" r="4.3"/><circle cx="282.61" cy="341.43" r="4.3"/><circle cx="284.1" cy="338.65" r="4.3"/><circle cx="285.6" cy="336.4" r="4.3"/><circle cx="287.1" cy="334.28" r="4.3"/><circle cx="288.59" cy="331.82" r="4.3"/><circle cx="290.09" cy="329.02" r="4.3"/><circle cx="291.58" cy="326.86" r="4.3"/><circle cx="293.08" cy="323.35" r="4.3"/><circle cx="294.57" cy="326.02" r="4.3"/><circle cx="296.07" cy="328.29" r="4.3"/><circle cx="297.56" cy="329.87" r="4.3"/><circle cx="297.56" cy="344.54" r="4.3"/><circle cx="299.06" cy="345.48" r="4.3"/><circle cx="300.55" cy="347.8" r="4.3"/><circle cx="302.05" cy="350.34" r="4.3"/><circle cx="303.55" cy="352.86" r="4.3"/><circle cx="305.04" cy="354.89" r="4.3"/><circle cx="306.54" cy="356.53" r="4.3"/><circle cx="308.03" cy="358.07" r="4.3"/><circle cx="309.53" cy="358.49" r="4.3"/><circle cx="311.02" cy="358.9" r="4.3"/><circle cx="312.52" cy="358.96" r="4.3"/><circle cx="314.01" cy="357.81" r="4.3"/><circle cx="315.51" cy="356.6" r="4.3"/><circle cx="317" cy="354.22" r="4.3"/><circle cx="318.5" cy="351.51" r="4.3"/></g>
<g fill="none" stroke="#0072BD" stroke-width="2.1"><circle cx="495.4" cy="314.34" r="4.3"/><circle cx="496.9" cy="306.82" r="4.3"/><circle cx="498.39" cy="303.06" r="4.3"/><circle cx="499.89" cy="303.06" r="4.3"/><circle cx="501.38" cy="306.82" r="4.3"/><circle cx="502.88" cy="303.06" r="4.3"/><circle cx="504.37" cy="301.18" r="4.3"/><circle cx="505.87" cy="299.45" r="4.3"/><circle cx="507.36" cy="303.06" r="4.3"/><circle cx="508.86" cy="304.94" r="4.3"/><circle cx="510.35" cy="306.82" r="4.3"/><circle cx="511.85" cy="314.34" r="4.3"/><circle cx="513.35" cy="310.58" r="4.3"/><circle cx="514.84" cy="316.22" r="4.3"/><circle cx="516.34" cy="314.34" r="4.3"/><circle cx="517.83" cy="318.1" r="4.3"/><circle cx="519.33" cy="316.22" r="4.3"/><circle cx="520.82" cy="306.82" r="4.3"/><circle cx="522.32" cy="304.94" r="4.3"/><circle cx="523.81" cy="306.82" r="4.3"/><circle cx="525.31" cy="304.94" r="4.3"/><circle cx="526.81" cy="303.06" r="4.3"/><circle cx="528.3" cy="304.94" r="4.3"/><circle cx="529.8" cy="306.82" r="4.3"/><circle cx="531.29" cy="306.82" r="4.3"/><circle cx="532.79" cy="306.82" r="4.3"/><circle cx="534.28" cy="308.7" r="4.3"/><circle cx="535.78" cy="310.58" r="4.3"/><circle cx="537.27" cy="310.58" r="4.3"/><circle cx="538.77" cy="308.7" r="4.3"/><circle cx="540.26" cy="306.82" r="4.3"/><circle cx="541.76" cy="310.58" r="4.3"/><circle cx="544.65" cy="320.86" r="4.3"/><circle cx="546.15" cy="326.64" r="4.3"/><circle cx="547.64" cy="337.21" r="4.3"/><circle cx="549.14" cy="341.05" r="4.3"/><circle cx="550.63" cy="343.52" r="4.3"/><circle cx="552.13" cy="345.38" r="4.3"/><circle cx="553.62" cy="347.14" r="4.3"/><circle cx="555.12" cy="348.63" r="4.3"/><circle cx="556.62" cy="350.13" r="4.3"/><circle cx="558.11" cy="351.62" r="4.3"/><circle cx="559.61" cy="352.07" r="4.3"/><circle cx="561.1" cy="352.37" r="4.3"/><circle cx="562.6" cy="351.64" r="4.3"/><circle cx="564.09" cy="350.47" r="4.3"/><circle cx="565.59" cy="341.75" r="4.3"/><circle cx="567.08" cy="333.99" r="4.3"/><circle cx="568.58" cy="333.16" r="4.3"/><circle cx="570.08" cy="331.92" r="4.3"/><circle cx="571.57" cy="330.67" r="4.3"/><circle cx="573.07" cy="330.72" r="4.3"/><circle cx="574.56" cy="332.59" r="4.3"/><circle cx="576.06" cy="334.37" r="4.3"/><circle cx="577.55" cy="336.12" r="4.3"/><circle cx="579.05" cy="337.25" r="4.3"/><circle cx="580.54" cy="333.77" r="4.3"/><circle cx="582.04" cy="325.75" r="4.3"/><circle cx="583.53" cy="323.03" r="4.3"/><circle cx="585.03" cy="322.9" r="4.3"/><circle cx="586.53" cy="323.9" r="4.3"/><circle cx="588.02" cy="324.77" r="4.3"/><circle cx="589.52" cy="324.52" r="4.3"/><circle cx="591.01" cy="324.28" r="4.3"/><circle cx="592.51" cy="325.5" r="4.3"/><circle cx="594" cy="328.12" r="4.3"/><circle cx="595.5" cy="326.57" r="4.3"/><circle cx="596.99" cy="324.05" r="4.3"/><circle cx="598.49" cy="322.71" r="4.3"/><circle cx="599.99" cy="322.58" r="4.3"/><circle cx="601.48" cy="324.68" r="4.3"/><circle cx="602.98" cy="330.94" r="4.3"/><circle cx="604.47" cy="337.6" r="4.3"/><circle cx="605.97" cy="344.26" r="4.3"/><circle cx="607.46" cy="347.57" r="4.3"/><circle cx="608.96" cy="348.02" r="4.3"/><circle cx="610.45" cy="348.47" r="4.3"/><circle cx="611.95" cy="348.92" r="4.3"/><circle cx="613.44" cy="350.11" r="4.3"/><circle cx="614.94" cy="352.13" r="4.3"/><circle cx="616.44" cy="352.88" r="4.3"/><circle cx="617.93" cy="353.63" r="4.3"/><circle cx="619.43" cy="354.59" r="4.3"/><circle cx="620.92" cy="355.58" r="4.3"/><circle cx="622.42" cy="356.72" r="4.3"/><circle cx="623.91" cy="358.21" r="4.3"/><circle cx="625.41" cy="359.05" r="4.3"/><circle cx="626.9" cy="355.14" r="4.3"/><circle cx="628.4" cy="349.95" r="4.3"/><circle cx="629.89" cy="339.63" r="4.3"/><circle cx="631.39" cy="334.97" r="4.3"/><circle cx="632.89" cy="331.4" r="4.3"/><circle cx="634.38" cy="327.97" r="4.3"/><circle cx="635.88" cy="325.63" r="4.3"/><circle cx="637.37" cy="323.76" r="4.3"/><circle cx="638.87" cy="321.77" r="4.3"/><circle cx="640.36" cy="319.68" r="4.3"/><circle cx="641.86" cy="318.59" r="4.3"/><circle cx="643.35" cy="319.19" r="4.3"/><circle cx="644.85" cy="319.4" r="4.3"/><circle cx="646.35" cy="318.28" r="4.3"/><circle cx="647.84" cy="322.01" r="4.3"/><circle cx="649.34" cy="331.67" r="4.3"/><circle cx="650.83" cy="338.75" r="4.3"/><circle cx="652.33" cy="334.85" r="4.3"/><circle cx="653.82" cy="327.36" r="4.3"/><circle cx="655.32" cy="321.31" r="4.3"/><circle cx="656.81" cy="311.04" r="4.3"/><circle cx="658.31" cy="311.04" r="4.3"/><circle cx="659.81" cy="311.04" r="4.3"/><circle cx="661.3" cy="311.04" r="4.3"/><circle cx="662.8" cy="311.04" r="4.3"/></g>
<g fill="none" stroke="#0072BD" stroke-width="2.1"><circle cx="152.4" cy="486.8" r="4.3"/><circle cx="154" cy="478.91" r="4.3"/><circle cx="155.49" cy="478.64" r="4.3"/><circle cx="156.99" cy="477.42" r="4.3"/><circle cx="158.48" cy="475.89" r="4.3"/><circle cx="159.98" cy="474.36" r="4.3"/><circle cx="161.47" cy="472.91" r="4.3"/><circle cx="162.97" cy="473.51" r="4.3"/><circle cx="164.46" cy="471.22" r="4.3"/><circle cx="165.96" cy="469.61" r="4.3"/><circle cx="167.46" cy="466.88" r="4.3"/><circle cx="168.95" cy="463.3" r="4.3"/><circle cx="170.45" cy="460.14" r="4.3"/><circle cx="171.94" cy="460.23" r="4.3"/><circle cx="173.44" cy="463.03" r="4.3"/><circle cx="174.93" cy="465.14" r="4.3"/><circle cx="176.43" cy="467.73" r="4.3"/><circle cx="177.92" cy="468.19" r="4.3"/><circle cx="179.42" cy="469.79" r="4.3"/><circle cx="180.91" cy="472.05" r="4.3"/><circle cx="182.41" cy="472.8" r="4.3"/><circle cx="183.91" cy="475.28" r="4.3"/><circle cx="185.4" cy="477.35" r="4.3"/><circle cx="186.9" cy="479.49" r="4.3"/><circle cx="188.39" cy="481.83" r="4.3"/><circle cx="189.89" cy="484.53" r="4.3"/><circle cx="191.38" cy="485.45" r="4.3"/><circle cx="192.88" cy="485.79" r="4.3"/><circle cx="194.37" cy="483.69" r="4.3"/><circle cx="195.87" cy="482.72" r="4.3"/><circle cx="197.37" cy="479.87" r="4.3"/><circle cx="198.86" cy="477.53" r="4.3"/><circle cx="200.36" cy="473.98" r="4.3"/><circle cx="201.85" cy="470.78" r="4.3"/><circle cx="203.35" cy="469.36" r="4.3"/><circle cx="204.84" cy="465.83" r="4.3"/><circle cx="206.34" cy="463.6" r="4.3"/><circle cx="207.83" cy="461.21" r="4.3"/><circle cx="209.33" cy="458.86" r="4.3"/><circle cx="210.82" cy="454.51" r="4.3"/><circle cx="212.32" cy="450.91" r="4.3"/><circle cx="213.82" cy="449.18" r="4.3"/><circle cx="215.31" cy="447.25" r="4.3"/><circle cx="216.81" cy="448.99" r="4.3"/><circle cx="218.3" cy="451.18" r="4.3"/><circle cx="219.8" cy="453.19" r="4.3"/><circle cx="221.29" cy="454.78" r="4.3"/><circle cx="222.79" cy="458.01" r="4.3"/><circle cx="224.28" cy="469.05" r="4.3"/><circle cx="225.78" cy="470.21" r="4.3"/><circle cx="227.28" cy="469.2" r="4.3"/><circle cx="228.77" cy="470.33" r="4.3"/><circle cx="230.27" cy="470.13" r="4.3"/><circle cx="231.76" cy="468.29" r="4.3"/><circle cx="233.26" cy="468.02" r="4.3"/><circle cx="234.75" cy="467.65" r="4.3"/><circle cx="236.25" cy="466.57" r="4.3"/><circle cx="237.74" cy="467.05" r="4.3"/><circle cx="239.24" cy="465.25" r="4.3"/><circle cx="240.73" cy="464.28" r="4.3"/><circle cx="242.23" cy="461.46" r="4.3"/><circle cx="243.73" cy="460.86" r="4.3"/><circle cx="245.22" cy="458.12" r="4.3"/><circle cx="246.72" cy="457.22" r="4.3"/><circle cx="248.21" cy="454.48" r="4.3"/><circle cx="249.71" cy="453.94" r="4.3"/><circle cx="251.2" cy="453.41" r="4.3"/><circle cx="252.7" cy="452.68" r="4.3"/><circle cx="254.19" cy="451.97" r="4.3"/><circle cx="255.69" cy="453.69" r="4.3"/><circle cx="257.19" cy="452.81" r="4.3"/><circle cx="258.68" cy="453.82" r="4.3"/><circle cx="260.18" cy="454.29" r="4.3"/><circle cx="261.67" cy="453.27" r="4.3"/><circle cx="263.17" cy="453.2" r="4.3"/><circle cx="264.66" cy="453.16" r="4.3"/><circle cx="266.16" cy="450.11" r="4.3"/><circle cx="267.65" cy="449.88" r="4.3"/><circle cx="269.15" cy="447.71" r="4.3"/><circle cx="270.64" cy="444.3" r="4.3"/><circle cx="272.14" cy="443.02" r="4.3"/><circle cx="273.64" cy="441.2" r="4.3"/><circle cx="275.13" cy="441.01" r="4.3"/><circle cx="276.63" cy="439.06" r="4.3"/><circle cx="278.12" cy="439.64" r="4.3"/><circle cx="279.62" cy="440.8" r="4.3"/><circle cx="281.11" cy="446.33" r="4.3"/><circle cx="282.61" cy="451.08" r="4.3"/><circle cx="284.1" cy="454.7" r="4.3"/><circle cx="285.6" cy="459.4" r="4.3"/><circle cx="287.1" cy="463.75" r="4.3"/><circle cx="288.59" cy="466.63" r="4.3"/><circle cx="290.09" cy="468.96" r="4.3"/><circle cx="291.58" cy="472.08" r="4.3"/><circle cx="293.08" cy="472.79" r="4.3"/><circle cx="294.57" cy="471.46" r="4.3"/><circle cx="296.07" cy="468.35" r="4.3"/><circle cx="297.56" cy="471.29" r="4.3"/><circle cx="299.06" cy="471.9" r="4.3"/><circle cx="300.55" cy="472.22" r="4.3"/><circle cx="302.05" cy="469.56" r="4.3"/><circle cx="303.55" cy="462.39" r="4.3"/><circle cx="306.54" cy="447.63" r="4.3"/><circle cx="308.03" cy="448.12" r="4.3"/><circle cx="309.53" cy="447.8" r="4.3"/><circle cx="311.02" cy="447.69" r="4.3"/><circle cx="312.52" cy="449.19" r="4.3"/><circle cx="314.01" cy="448.94" r="4.3"/><circle cx="315.51" cy="450.64" r="4.3"/><circle cx="317" cy="451.09" r="4.3"/><circle cx="318.5" cy="451.04" r="4.3"/><circle cx="320" cy="451.76" r="4.3"/></g>
<g fill="none" stroke="#0072BD" stroke-width="2.1"><circle cx="495.3" cy="484.37" r="4.3"/><circle cx="496.8" cy="483.04" r="4.3"/><circle cx="498.29" cy="481.17" r="4.3"/><circle cx="499.79" cy="478.68" r="4.3"/><circle cx="501.28" cy="472.94" r="4.3"/><circle cx="502.78" cy="465.85" r="4.3"/><circle cx="504.27" cy="458.73" r="4.3"/><circle cx="505.77" cy="453.09" r="4.3"/><circle cx="507.26" cy="447.85" r="4.3"/><circle cx="508.76" cy="443.46" r="4.3"/><circle cx="510.25" cy="441.02" r="4.3"/><circle cx="511.75" cy="442.48" r="4.3"/><circle cx="513.25" cy="445.78" r="4.3"/><circle cx="514.74" cy="450.04" r="4.3"/><circle cx="515.29" cy="462.49" r="4.3"/><circle cx="516.24" cy="453.9" r="4.3"/><circle cx="517.73" cy="456.68" r="4.3"/><circle cx="519.23" cy="458.62" r="4.3"/><circle cx="520.72" cy="458.62" r="4.3"/><circle cx="522.22" cy="464.88" r="4.3"/><circle cx="523.71" cy="472.41" r="4.3"/><circle cx="525.21" cy="479.23" r="4.3"/><circle cx="526.71" cy="483.81" r="4.3"/><circle cx="528.2" cy="485.09" r="4.3"/><circle cx="529.7" cy="485.46" r="4.3"/><circle cx="531.19" cy="484.53" r="4.3"/><circle cx="532.69" cy="481.52" r="4.3"/><circle cx="534.18" cy="477.78" r="4.3"/><circle cx="535.68" cy="474.31" r="4.3"/><circle cx="537.17" cy="470.95" r="4.3"/><circle cx="538.67" cy="467.68" r="4.3"/><circle cx="540.16" cy="464.69" r="4.3"/><circle cx="541.66" cy="462.15" r="4.3"/><circle cx="543.16" cy="455.65" r="4.3"/><circle cx="544.65" cy="447.15" r="4.3"/><circle cx="546.15" cy="435.91" r="4.3"/><circle cx="547.64" cy="427.4" r="4.3"/><circle cx="549.14" cy="427.67" r="4.3"/><circle cx="550.63" cy="428.61" r="4.3"/><circle cx="552.13" cy="428.35" r="4.3"/><circle cx="553.62" cy="427.4" r="4.3"/><circle cx="555.12" cy="441.23" r="4.3"/><circle cx="556.62" cy="451.48" r="4.3"/><circle cx="558.11" cy="458" r="4.3"/><circle cx="559.61" cy="460.44" r="4.3"/><circle cx="561.1" cy="463.55" r="4.3"/><circle cx="562.6" cy="466.73" r="4.3"/><circle cx="564.09" cy="470.47" r="4.3"/><circle cx="565.59" cy="474.92" r="4.3"/><circle cx="567.08" cy="480.52" r="4.3"/><circle cx="568.58" cy="483.01" r="4.3"/><circle cx="570.08" cy="483.49" r="4.3"/><circle cx="571.57" cy="483.55" r="4.3"/><circle cx="573.07" cy="483.11" r="4.3"/><circle cx="574.56" cy="479.46" r="4.3"/><circle cx="576.06" cy="476.97" r="4.3"/><circle cx="577.55" cy="474.48" r="4.3"/><circle cx="579.05" cy="471.98" r="4.3"/><circle cx="580.54" cy="469.15" r="4.3"/><circle cx="582.04" cy="466.45" r="4.3"/><circle cx="583.53" cy="464.18" r="4.3"/><circle cx="585.03" cy="458.03" r="4.3"/><circle cx="586.53" cy="448.31" r="4.3"/><circle cx="588.02" cy="438.72" r="4.3"/><circle cx="589.52" cy="430.61" r="4.3"/><circle cx="591.01" cy="431.21" r="4.3"/><circle cx="592.51" cy="431.89" r="4.3"/><circle cx="594" cy="432.59" r="4.3"/><circle cx="595.5" cy="436.24" r="4.3"/><circle cx="596.99" cy="450.91" r="4.3"/><circle cx="598.49" cy="465.65" r="4.3"/><circle cx="599.99" cy="472.44" r="4.3"/><circle cx="601.48" cy="475.16" r="4.3"/><circle cx="602.98" cy="477.85" r="4.3"/><circle cx="604.47" cy="480.18" r="4.3"/><circle cx="605.97" cy="481.85" r="4.3"/><circle cx="607.46" cy="483.1" r="4.3"/><circle cx="608.96" cy="484.12" r="4.3"/><circle cx="610.45" cy="484.88" r="4.3"/><circle cx="611.95" cy="485.56" r="4.3"/><circle cx="613.44" cy="484.64" r="4.3"/><circle cx="614.94" cy="483.37" r="4.3"/><circle cx="616.44" cy="481.87" r="4.3"/><circle cx="617.93" cy="479.98" r="4.3"/><circle cx="619.43" cy="477.74" r="4.3"/><circle cx="620.92" cy="474.97" r="4.3"/><circle cx="622.42" cy="471.98" r="4.3"/><circle cx="623.91" cy="468.77" r="4.3"/><circle cx="625.41" cy="465.32" r="4.3"/><circle cx="626.9" cy="460.96" r="4.3"/><circle cx="628.4" cy="457.39" r="4.3"/><circle cx="629.89" cy="454.58" r="4.3"/><circle cx="631.39" cy="452.44" r="4.3"/><circle cx="632.89" cy="451.31" r="4.3"/><circle cx="634.38" cy="450.82" r="4.3"/><circle cx="635.88" cy="451.34" r="4.3"/><circle cx="637.37" cy="452.05" r="4.3"/><circle cx="638.87" cy="452.86" r="4.3"/><circle cx="640.36" cy="453.3" r="4.3"/><circle cx="641.86" cy="458.56" r="4.3"/><circle cx="643.35" cy="469.29" r="4.3"/><circle cx="644.85" cy="474.17" r="4.3"/><circle cx="646.35" cy="477.19" r="4.3"/><circle cx="647.84" cy="479.8" r="4.3"/><circle cx="649.34" cy="481.8" r="4.3"/><circle cx="650.83" cy="483.29" r="4.3"/><circle cx="652.33" cy="484.54" r="4.3"/><circle cx="653.82" cy="485.14" r="4.3"/><circle cx="655.32" cy="485.62" r="4.3"/><circle cx="656.81" cy="485.24" r="4.3"/><circle cx="658.31" cy="484.57" r="4.3"/><circle cx="659.81" cy="483.44" r="4.3"/><circle cx="661.3" cy="481.73" r="4.3"/><circle cx="662.8" cy="479.42" r="4.3"/></g>
<g opacity="0.999">
<text x="138.7" y="51.5" font-size="19.7" text-anchor="end" textLength="43.2" lengthAdjust="spacingAndGlyphs">1000</text><text x="138.7" y="81.52" font-size="19.7" text-anchor="end" textLength="32.4" lengthAdjust="spacingAndGlyphs">900</text><text x="138.7" y="111.55" font-size="19.7" text-anchor="end" textLength="32.4" lengthAdjust="spacingAndGlyphs">800</text>
<g transform="translate(84.1 0) rotate(-90)"><text x="-125.11" y="0" font-size="21.2" textLength="101.51" lengthAdjust="spacingAndGlyphs">PRESSURE</text></g>
<text x="482.1" y="56.96" font-size="19.7" text-anchor="end" textLength="32.4" lengthAdjust="spacingAndGlyphs">290</text><text x="482.1" y="84.25" font-size="19.7" text-anchor="end" textLength="32.4" lengthAdjust="spacingAndGlyphs">285</text><text x="482.1" y="111.55" font-size="19.7" text-anchor="end" textLength="32.4" lengthAdjust="spacingAndGlyphs">280</text>
<g transform="translate(438.5 0) rotate(-90)"><text x="-106.13" y="0" font-size="21.2" textLength="63.47" lengthAdjust="spacingAndGlyphs">THETA</text></g>
<text x="138.7" y="187.67" font-size="19.7" text-anchor="end" textLength="32.4" lengthAdjust="spacingAndGlyphs">285</text><text x="138.7" y="210.61" font-size="19.7" text-anchor="end" textLength="32.4" lengthAdjust="spacingAndGlyphs">280</text><text x="138.7" y="233.55" font-size="19.7" text-anchor="end" textLength="32.4" lengthAdjust="spacingAndGlyphs">275</text>
<g transform="translate(86 0) rotate(-90)"><text x="-244.74" y="0" font-size="21.2" textLength="32.03" lengthAdjust="spacingAndGlyphs">AIR</text><text x="-210.72" y="9.9" font-size="16" textLength="8.75" lengthAdjust="spacingAndGlyphs">T</text><text x="-201.05" y="0" font-size="21.2" textLength="43.61" lengthAdjust="spacingAndGlyphs">EMP</text></g>
<text x="482.1" y="189.35" font-size="19.7" text-anchor="end" textLength="10.8" lengthAdjust="spacingAndGlyphs">1</text><text x="482.1" y="213.97" font-size="19.7" text-anchor="end" textLength="25.4" lengthAdjust="spacingAndGlyphs">0.5</text><text x="482.1" y="238.6" font-size="19.7" text-anchor="end" textLength="10.8" lengthAdjust="spacingAndGlyphs">0</text>
<g transform="translate(445.2 0) rotate(-90)"><text x="-250.25" y="0" font-size="21.2" textLength="96.12" lengthAdjust="spacingAndGlyphs">RAINFALL</text></g>
<text x="138.7" y="306.65" font-size="19.7" text-anchor="end" textLength="43.2" lengthAdjust="spacingAndGlyphs">2000</text><text x="138.7" y="336.57" font-size="19.7" text-anchor="end" textLength="43.2" lengthAdjust="spacingAndGlyphs">1000</text><text x="138.7" y="366.5" font-size="19.7" text-anchor="end" textLength="10.8" lengthAdjust="spacingAndGlyphs">0</text>
<g transform="translate(84.1 0) rotate(-90)"><text x="-382.99" y="0" font-size="21.2" textLength="106.57" lengthAdjust="spacingAndGlyphs">MIXDEPTH</text></g>
<text x="482.1" y="306.65" font-size="19.7" text-anchor="end" textLength="10.8" lengthAdjust="spacingAndGlyphs">6</text><text x="482.1" y="325.59" font-size="19.7" text-anchor="end" textLength="25.4" lengthAdjust="spacingAndGlyphs">5.5</text><text x="482.1" y="344.53" font-size="19.7" text-anchor="end" textLength="10.8" lengthAdjust="spacingAndGlyphs">5</text><text x="482.1" y="363.47" font-size="19.7" text-anchor="end" textLength="25.4" lengthAdjust="spacingAndGlyphs">4.5</text>
<g transform="translate(445.2 0) rotate(-90)"><text x="-384.11" y="0" font-size="21.2" textLength="108.95" lengthAdjust="spacingAndGlyphs">H2OMIXRA</text></g>
<text x="138.7" y="434.6" font-size="19.7" text-anchor="end" textLength="32.4" lengthAdjust="spacingAndGlyphs">500</text><text x="138.7" y="494.5" font-size="19.7" text-anchor="end" textLength="10.8" lengthAdjust="spacingAndGlyphs">0</text>
<g transform="translate(86 0) rotate(-90)"><text x="-502.01" y="0" font-size="21.2" textLength="49.76" lengthAdjust="spacingAndGlyphs">TERR</text><text x="-450.36" y="9.9" font-size="16" textLength="15.81" lengthAdjust="spacingAndGlyphs">M</text><text x="-434.52" y="0" font-size="21.2" textLength="22.01" lengthAdjust="spacingAndGlyphs">SL</text></g>
<text transform="translate(160.2 510.4) rotate(-45)" font-size="20" text-anchor="end" textLength="49.5" lengthAdjust="spacingAndGlyphs">06/10</text><text transform="translate(200.9 510.4) rotate(-45)" font-size="20" text-anchor="end" textLength="49.5" lengthAdjust="spacingAndGlyphs">06/11</text><text transform="translate(242.9 510.4) rotate(-45)" font-size="20" text-anchor="end" textLength="49.5" lengthAdjust="spacingAndGlyphs">06/12</text><text transform="translate(284.9 510.4) rotate(-45)" font-size="20" text-anchor="end" textLength="49.5" lengthAdjust="spacingAndGlyphs">06/13</text><text transform="translate(325.9 510.4) rotate(-45)" font-size="20" text-anchor="end" textLength="49.5" lengthAdjust="spacingAndGlyphs">06/14</text><text transform="translate(367.95 510.4) rotate(-45)" font-size="20" text-anchor="end" textLength="49.5" lengthAdjust="spacingAndGlyphs">06/15</text>
<text x="250.97" y="576" font-size="20.6" text-anchor="middle" textLength="50.5" lengthAdjust="spacingAndGlyphs">Time</text>
<text x="482.1" y="447.7" font-size="19.7" text-anchor="end" textLength="32.4" lengthAdjust="spacingAndGlyphs">500</text><text x="482.1" y="494.5" font-size="19.7" text-anchor="end" textLength="10.8" lengthAdjust="spacingAndGlyphs">0</text>
<g transform="translate(399.1 0) rotate(-90)"><text x="-503.37" y="0" font-size="21.2" textLength="40.43" lengthAdjust="spacingAndGlyphs">SUN</text><text x="-457.41" y="8.4" font-size="16" textLength="8.25" lengthAdjust="spacingAndGlyphs">F</text><text x="-448.49" y="0" font-size="21.2" textLength="37.7" lengthAdjust="spacingAndGlyphs">LUX</text></g>
<text transform="translate(503 510.4) rotate(-45)" font-size="20" text-anchor="end" textLength="49.5" lengthAdjust="spacingAndGlyphs">06/10</text><text transform="translate(544.9 510.4) rotate(-45)" font-size="20" text-anchor="end" textLength="49.5" lengthAdjust="spacingAndGlyphs">06/11</text><text transform="translate(585.9 510.4) rotate(-45)" font-size="20" text-anchor="end" textLength="49.5" lengthAdjust="spacingAndGlyphs">06/12</text><text transform="translate(627.9 510.4) rotate(-45)" font-size="20" text-anchor="end" textLength="49.5" lengthAdjust="spacingAndGlyphs">06/13</text><text transform="translate(669.9 510.4) rotate(-45)" font-size="20" text-anchor="end" textLength="49.5" lengthAdjust="spacingAndGlyphs">06/14</text><text transform="translate(711.1 510.4) rotate(-45)" font-size="20" text-anchor="end" textLength="49.5" lengthAdjust="spacingAndGlyphs">06/15</text>
<text x="593.95" y="576" font-size="20.6" text-anchor="middle" textLength="50.5" lengthAdjust="spacingAndGlyphs">Time</text>
<text x="251.27" y="31.7" font-size="20.7" text-anchor="middle" textLength="138.6" lengthAdjust="spacingAndGlyphs" font-weight="bold" fill="#000">Figure 1 high</text>
</g>
</svg>
</body></html>
